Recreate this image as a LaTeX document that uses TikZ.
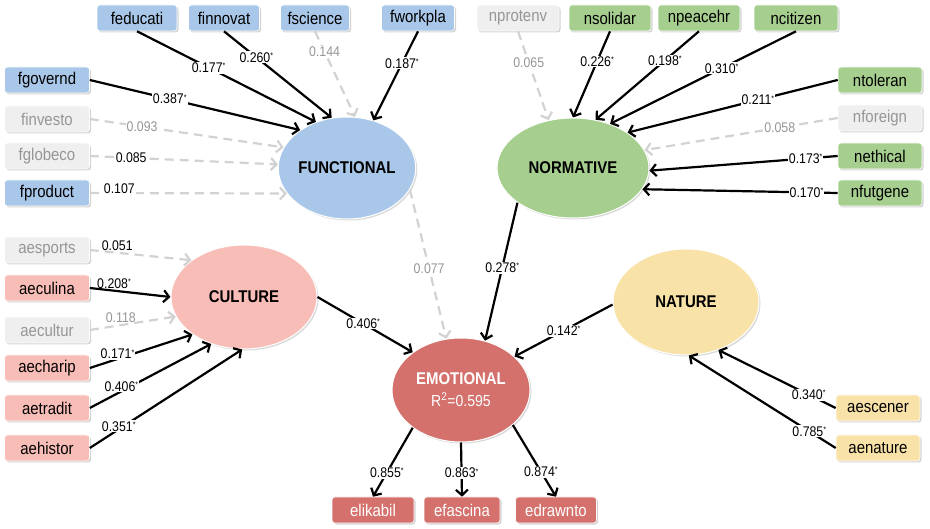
\documentclass[tikz,border=0pt]{standalone}
\usepackage{fontspec}
\setmainfont{Liberation Sans}[FakeStretch=0.88]
\usetikzlibrary{arrows.meta,shapes.geometric,shadows}
\definecolor{funcblue}{HTML}{A9C8E9}
\definecolor{normgreen}{HTML}{A6CF8F}
\definecolor{cultpink}{HTML}{F7BDB6}
\definecolor{emored}{HTML}{D4716C}
\definecolor{natyellow}{HTML}{F9E2A8}
\definecolor{nsgray}{HTML}{EFEFEF}
\definecolor{nstext}{HTML}{969696}
\definecolor{dashgray}{HTML}{D2D2D2}
\newcommand{\sg}{\raisebox{.25em}{\fontsize{8}{8}\selectfont*}}

\begin{document}
\begin{tikzpicture}[x=1pt,y=-1pt,>={Straight Barb[length=5.5pt,width=12pt]},
  ind/.style={draw=white,line width=.6pt,rounded corners=3pt,
    minimum width=82pt,minimum height=26pt,inner xsep=5pt,
    font=\fontsize{17}{17}\selectfont,
    drop shadow={shadow xshift=1.5pt,shadow yshift=-1.5pt,opacity=.35}},
  fi/.style={ind,fill=funcblue},
  ni/.style={ind,fill=normgreen},
  ci/.style={ind,fill=cultpink},
  ei/.style={ind,fill=emored,text=white},
  ai/.style={ind,fill=natyellow},
  nsi/.style={ind,fill=nsgray,text=nstext},
  lat/.style={ellipse,draw=white,line width=1pt,inner sep=0pt,
    font=\bfseries\fontsize{17}{17}\selectfont,
    drop shadow={shadow xshift=1.5pt,shadow yshift=-1.5pt,opacity=.3}},
  arr/.style={->,line width=2.2pt,draw=black},
  nsarr/.style={->,line width=2.2pt,draw=dashgray,dash pattern=on 9pt off 6pt},
  coef/.style={fill=white,inner sep=1pt,font=\fontsize{14}{14}\selectfont},
  nscoef/.style={coef,text=nstext}]
  \useasboundingbox (0,0) rectangle (930,529);

  % latent variables
  \node[lat,fill=funcblue,minimum width=130pt,minimum height=102pt] (func) at (347,168) {FUNCTIONAL};
  \node[lat,fill=normgreen,minimum width=152pt,minimum height=100pt] (norm) at (573,168) {NORMATIVE};
  \node[lat,fill=cultpink,minimum width=146pt,minimum height=104pt] (cult) at (244,297) {CULTURE};
  \node[lat,fill=natyellow,minimum width=146pt,minimum height=106pt] (nat) at (686,302) {NATURE};
  \node[lat,fill=emored,text=white,align=center,minimum width=138pt,minimum height=104pt] (emo) at (461,390)
    {EMOTIONAL\\[5pt]{\mdseries\fontsize{16}{16}\selectfont R\textsuperscript{2}=0.595}};

  % functional indicators
  \node[fi,minimum width=80pt] (feducati) at (137,18) {feducati};
  \node[fi,minimum width=71pt] (finnovat) at (224,18) {finnovat};
  \node[fi,minimum width=69pt] (fscience) at (315,18) {fscience};
  \node[fi,minimum width=73pt] (fworkpla) at (418,18) {fworkpla};
  \node[fi,minimum width=85pt] (fgovernd) at (47,80) {fgovernd};
  \node[nsi,minimum width=85pt] (finvesto) at (47,119) {finvesto};
  \node[nsi,minimum width=85pt] (fglobeco) at (47,156) {fglobeco};
  \node[fi,minimum width=85pt] (fproduct) at (47,193) {fproduct};

  % normative indicators
  \node[nsi] (nprotenv) at (518,18) {nprotenv};
  \node[ni] (nsolidar) at (610,18) {nsolidar};
  \node[ni] (npeacehr) at (699,18) {npeacehr};
  \node[ni,minimum width=84pt] (ncitizen) at (796,18) {ncitizen};
  \node[ni,minimum width=84pt] (ntoleran) at (880,80) {ntoleran};
  \node[nsi,minimum width=84pt] (nforeign) at (880,118) {nforeign};
  \node[ni,minimum width=84pt] (nethical) at (880,156) {nethical};
  \node[ni,minimum width=84pt] (nfutgene) at (880,193) {nfutgene};

  % culture indicators
  \node[nsi,minimum width=85pt] (aesports) at (47,250) {aesports};
  \node[ci,minimum width=85pt] (aeculina) at (47,288) {aeculina};
  \node[nsi,minimum width=85pt] (aecultur) at (47,330) {aecultur};
  \node[ci,minimum width=85pt] (aecharip) at (47,368) {aecharip};
  \node[ci,minimum width=85pt] (aetradit) at (47,408) {aetradit};
  \node[ci,minimum width=85pt] (aehistor) at (47,448) {aehistor};

  % nature and emotional indicators
  \node[ai,minimum width=84pt] (aescener) at (878,408) {aescener};
  \node[ai,minimum width=84pt] (aenature) at (878,448) {aenature};
  \node[ei] (elikabil) at (373,510) {elikabil};
  \node[ei,minimum width=76pt] (efascina) at (462,510) {efascina};
  \node[ei,minimum width=81pt] (edrawnto) at (556,510) {edrawnto};

  % paths to FUNCTIONAL
  \draw[arr] (feducati.south) -- node[coef,pos=.40]{0.177\sg} (func.124);
  \draw[arr] (finnovat.south) -- node[coef,pos=.30]{0.260\sg} (func.107);
  \draw[nsarr] (fscience.south) -- node[nscoef,pos=.24]{0.144} (func.81);
  \draw[arr] (fworkpla.south) -- node[coef,pos=.36]{0.187\sg} (func.61);
  \draw[arr] (fgovernd.east) -- node[coef,pos=.38]{0.387\sg} (func.141);
  \draw[nsarr] (finvesto.east) -- node[nscoef,pos=.27]{0.093} (func.162);
  \draw[nsarr] (fglobeco.east) -- node[coef,pos=.22]{0.085} (func.177);
  \draw[nsarr] (fproduct.east) -- node[coef,pos=.15,yshift=4pt]{0.107} (func.203);

  % paths to NORMATIVE
  \draw[nsarr] (nprotenv.south) -- node[nscoef,pos=.35]{0.065} (norm.117);
  \draw[arr] (nsolidar.south) -- node[coef,pos=.35]{0.226\sg} (norm.90);
  \draw[arr] (npeacehr.south) -- node[coef,pos=.33]{0.198\sg} (norm.65);
  \draw[arr] (ncitizen.south) -- node[coef,pos=.40]{0.310\sg} (norm.50);
  \draw[arr] (ntoleran.west) -- node[coef,pos=.38]{0.211\sg} (norm.33);
  \draw[nsarr] (nforeign.west) -- node[nscoef,pos=.30]{0.058} (norm.14);
  \draw[arr] (nethical.west) -- node[coef,pos=.17]{0.173\sg} (norm.358);
  \draw[arr] (nfutgene.west) -- node[coef,pos=.16]{0.170\sg} (norm.343);

  % paths to CULTURE
  \draw[nsarr] (aesports.east) -- node[coef,pos=.27,above,fill=none]{0.051} (cult.145);
  \draw[arr] (aeculina.east) -- node[coef,pos=.30,above,fill=none]{0.208\sg} (cult.180);
  \draw[nsarr] (aecultur.east) -- node[nscoef,pos=.36,above,fill=none]{0.118} (cult.196);
  \draw[arr] (aecharip.east) -- node[coef,pos=.27,yshift=5pt]{0.171\sg} (cult.216);
  \draw[arr] (aetradit.east) -- node[coef,pos=.26,yshift=5pt]{0.406\sg} (cult.235);
  \draw[arr] (aehistor.east) -- node[coef,pos=.19,yshift=3pt]{0.351\sg} (cult.268);

  % paths to NATURE
  \draw[arr] (aescener.west) -- node[coef,pos=.23]{0.340\sg} (nat.304);
  \draw[arr] (aenature.west) -- node[coef,pos=.18]{0.785\sg} (nat.273);

  % structural paths
  \draw[arr] (cult.0) -- node[coef,pos=.48]{0.406\sg} (emo.142);
  \draw[nsarr] (func.341) -- node[nscoef,pos=.53]{0.077} (emo.106);
  \draw[arr] (norm.212) -- node[coef,pos=.47]{0.278\sg} (emo.64);
  \draw[arr] (nat.182) -- node[coef,pos=.50]{0.142\sg} (emo.32);

  % EMOTIONAL indicators
  \draw[arr] (emo.218) -- node[coef,pos=.65]{0.855\sg} (elikabil.north);
  \draw[arr] (emo.270) -- node[coef,pos=.56]{0.863\sg} (efascina.north);
  \draw[arr] (emo.326) -- node[coef,pos=.65]{0.874\sg} (edrawnto.north);
\end{tikzpicture}
\end{document}
